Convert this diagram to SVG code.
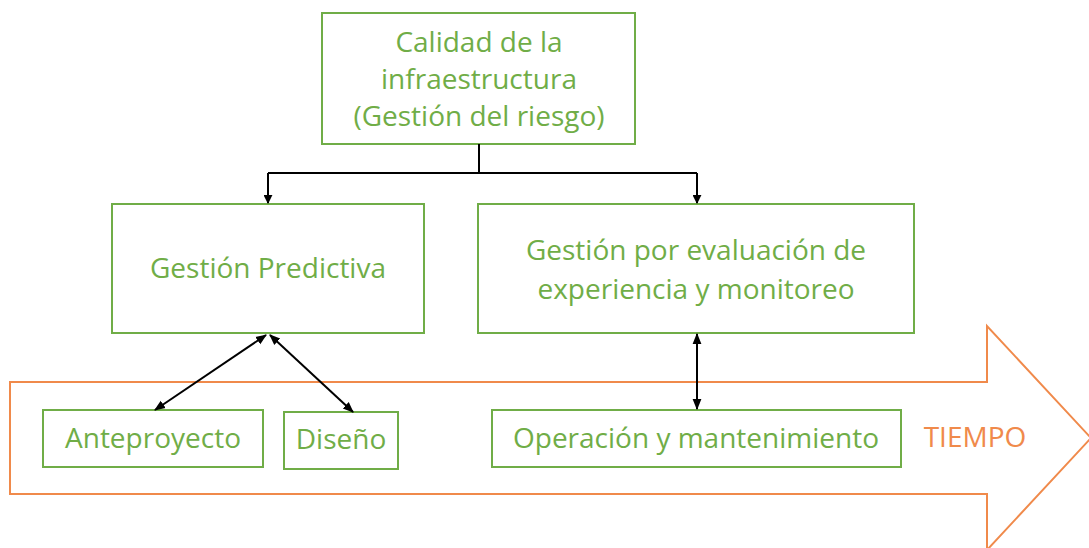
<svg xmlns="http://www.w3.org/2000/svg" width="1089" height="548" viewBox="0 0 1089 548">
<defs>
<style>
.box{fill:#fff;stroke:#70AD47;stroke-width:2}
.t{font-family:"Open Sans","Liberation Sans",sans-serif;font-size:28px;fill:#70AD47;text-anchor:middle}
.c{fill:none;stroke:#000;stroke-width:2}
</style>
<marker id="ah" viewBox="0 0 10 10" refX="9" refY="5" markerWidth="9" markerHeight="9" orient="auto-start-reverse" markerUnits="userSpaceOnUse">
<path d="M0,0 L10,5 L0,10 z" fill="#000"/>
</marker>
<marker id="ah2" viewBox="0 0 10 10" refX="9" refY="5" markerWidth="11" markerHeight="11" orient="auto-start-reverse" markerUnits="userSpaceOnUse">
<path d="M0,1 L10,5 L0,9 z" fill="#000"/>
</marker>
</defs>
<g id="tiempo">
<path d="M10,382 L987,382 L987,326 L1091,438 L987,550 L987,494 L10,494 Z" fill="#fff" stroke="#F08A4B" stroke-width="2"/>
<text x="975" y="447" style="font-family:'Open Sans','Liberation Sans',sans-serif;font-size:28px;fill:#F08A4B;text-anchor:middle">TIEMPO</text>
</g>
<g id="calidad">
<rect class="box" x="322" y="13" width="313" height="131"/>
<text class="t" x="479" y="52">Calidad de la</text>
<text class="t" x="479" y="89">infraestructura</text>
<text class="t" x="479" y="126">(Gestión del riesgo)</text>
</g>
<g id="predictiva">
<rect class="box" x="112" y="204" width="312" height="129"/>
<text class="t" x="268" y="278">Gestión Predictiva</text>
</g>
<g id="evaluacion">
<rect class="box" x="478" y="204" width="436" height="129"/>
<text class="t" x="696" y="260">Gestión por evaluación de</text>
<text class="t" x="696" y="299">experiencia y monitoreo</text>
</g>
<g id="anteproyecto">
<rect class="box" x="43" y="410" width="220" height="57"/>
<text class="t" x="153" y="448">Anteproyecto</text>
</g>
<g id="diseno">
<rect class="box" x="284" y="412" width="114" height="57"/>
<text class="t" x="341" y="449">Diseño</text>
</g>
<g id="operacion">
<rect class="box" x="492" y="410" width="409" height="57"/>
<text class="t" x="696" y="448">Operación y mantenimiento</text>
</g>
<g id="connectors">
<path class="c" d="M479,144 V173 M268,173 H697" />
<path class="c" d="M268,173 V203" marker-end="url(#ah)"/>
<path class="c" d="M697,173 V203" marker-end="url(#ah)"/>
<path class="c" d="M697,334 V409" marker-start="url(#ah2)" marker-end="url(#ah2)"/>
<path class="c" d="M266,335 L155,410" marker-start="url(#ah2)" marker-end="url(#ah2)"/>
<path class="c" d="M270,335 L353,412" marker-start="url(#ah2)" marker-end="url(#ah2)"/>
</g>
</svg>
